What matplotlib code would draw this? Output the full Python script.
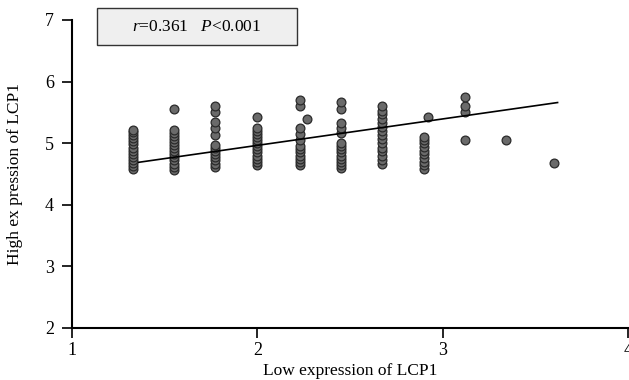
import matplotlib
matplotlib.use("Agg")
import matplotlib.pyplot as plt
from matplotlib.patches import Rectangle
import numpy as np

# Data
group_x = [1.33, 1.55, 1.77, 2.00, 2.23, 2.27, 2.45, 2.67, 2.90, 2.92, 3.12, 3.34, 3.60]
group_y = [
    [4.58, 4.63, 4.68, 4.73, 4.78, 4.83, 4.88, 4.93, 4.98, 5.03, 5.08, 5.13, 5.18, 5.22],
    [4.57, 4.62, 4.67, 4.72, 4.77, 4.82, 4.87, 4.92, 4.97, 5.02, 5.07, 5.12, 5.17, 5.22, 5.55],
    [4.62, 4.67, 4.72, 4.77, 4.82, 4.87, 4.92, 4.97, 5.14, 5.24, 5.34, 5.50, 5.60],
    [4.65, 4.70, 4.75, 4.80, 4.85, 4.90, 4.95, 5.00, 5.05, 5.10, 5.15, 5.20, 5.25, 5.43],
    [4.65, 4.70, 4.75, 4.80, 4.85, 4.90, 4.95, 5.05, 5.15, 5.25, 5.60, 5.70],
    [5.40],
    [4.60, 4.65, 4.70, 4.75, 4.80, 4.85, 4.90, 4.95, 5.00, 5.17, 5.25, 5.33, 5.55, 5.67],
    [4.67, 4.73, 4.80, 4.87, 4.93, 5.00, 5.07, 5.13, 5.20, 5.27, 5.33, 5.40, 5.47, 5.53, 5.60],
    [4.58, 4.64, 4.70, 4.76, 4.82, 4.88, 4.94, 5.00, 5.06, 5.10],
    [5.43],
    [5.06, 5.50, 5.60, 5.75],
    [5.06],
    [4.68],
]
fit_x = [1.36, 3.62]
fit_y = [4.69, 5.66]
x_ticks = [1, 2, 3, 4]
y_ticks = [2, 3, 4, 5, 6, 7]

plt.rcParams['font.family'] = ['Liberation Serif', 'DejaVu Serif']
plt.rcParams['mathtext.fontset'] = 'custom'
plt.rcParams['mathtext.rm'] = 'Liberation Serif'
plt.rcParams['mathtext.it'] = 'Liberation Serif:italic'

fig = plt.figure(figsize=(6.29, 3.80), dpi=100)
ax = fig.add_axes([72/629, 1-328/380, (628-72)/629, (328-20)/380])

xs = np.concatenate([[gx]*len(gy) for gx, gy in zip(group_x, group_y)])
ys = np.concatenate(group_y)
ax.scatter(xs, ys, s=40, facecolor='#6a6a6a', edgecolor='#2a2a2a', linewidth=0.9, zorder=3)
ax.plot(fit_x, fit_y, color='black', lw=1.2, zorder=4)

ax.set_xlim(1, 4)
ax.set_ylim(2, 7)
ax.set_xticks(x_ticks)
ax.set_yticks(y_ticks)
for s in ['top', 'right']:
    ax.spines[s].set_visible(False)
for s in ['left', 'bottom']:
    ax.spines[s].set_linewidth(1.5)
ax.tick_params(axis='both', direction='out', length=7, width=1.2, labelsize=13)
ax.tick_params(axis='y', pad=6)
ax.tick_params(axis='x', pad=3)
ax.set_xlabel('Low expression of LCP1', fontsize=12.5, labelpad=3)
ax.set_ylabel('High ex pression of LCP1', fontsize=12.5, labelpad=16)
ax.patch.set_alpha(0)

fig.patches.append(Rectangle((97/629, 1-45/380), 200/629, 37/380, transform=fig.transFigure,
                             facecolor='#efefef', edgecolor='#333333', lw=1.0))
fig.text((97+297)/2/629, 1-27/380, r'$r$=0.361   $P$<0.001', fontsize=12.5,
         ha='center', va='center')

fig.savefig('out.png', dpi=100)
